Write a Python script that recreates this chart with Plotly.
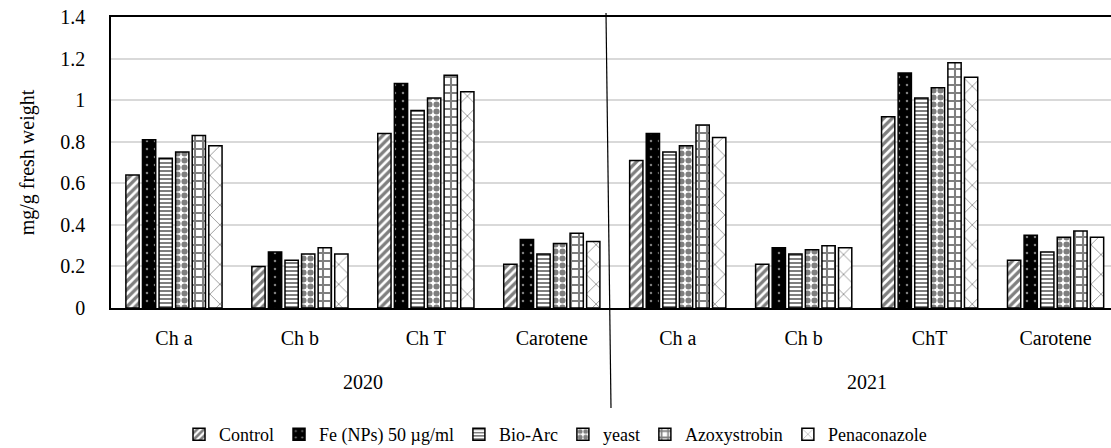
import plotly.graph_objects as go

years = ["2020", "2021"]
params = ["Ch a", "Ch b", "Ch T", "Carotene", "Ch a", "Ch b", "ChT", "Carotene"]
keys = [f"{years[i // 4]}|{p}" for i, p in enumerate(params)]

control = [0.64, 0.20, 0.84, 0.21, 0.71, 0.21, 0.92, 0.23]
fe_nps = [0.81, 0.27, 1.08, 0.33, 0.84, 0.29, 1.13, 0.35]
bio_arc = [0.72, 0.23, 0.95, 0.26, 0.75, 0.26, 1.01, 0.27]
yeast = [0.75, 0.26, 1.01, 0.31, 0.78, 0.28, 1.06, 0.34]
azoxystrobin = [0.83, 0.29, 1.12, 0.36, 0.88, 0.30, 1.18, 0.37]
penaconazole = [0.78, 0.26, 1.04, 0.32, 0.82, 0.29, 1.11, 0.34]

series_names = ["Control", "Fe (NPs) 50 µg/ml", "Bio-Arc", "yeast", "Azoxystrobin", "Penaconazole"]
series_values = [control, fe_nps, bio_arc, yeast, azoxystrobin, penaconazole]

styles = [
    dict(color="white", pattern=dict(shape="/", fgcolor="black", bgcolor="white", size=6, solidity=0.55)),
    dict(color="black", pattern=dict(shape=".", fgcolor="white", bgcolor="black", size=8, solidity=0.08)),
    dict(color="white", pattern=dict(shape="-", fgcolor="black", bgcolor="white", size=4, solidity=0.5)),
    dict(color="white", pattern=dict(shape=".", fgcolor="black", bgcolor="white", size=7, solidity=0.6)),
    dict(color="white", pattern=dict(shape="+", fgcolor="black", bgcolor="white", size=8, solidity=0.45)),
    dict(color="white", pattern=dict(shape="x", fgcolor="#222222", bgcolor="white", size=14, solidity=0.12)),
]

FONT = "Times New Roman"
FS = 20
LFS = 18

fig = go.Figure()
for name, vals, st in zip(series_names, series_values, styles):
    fig.add_trace(go.Bar(
        name=name,
        x=keys,
        y=vals,
        marker=dict(color=st["color"], pattern=st["pattern"],
                    line=dict(color="black", width=1.5)),
    ))

fig.update_layout(
    width=1111, height=448,
    margin=dict(l=111, r=0, t=17, b=140),
    paper_bgcolor="white", plot_bgcolor="white",
    barmode="group", bargap=0.21, bargroupgap=0.2,
    font=dict(family=FONT, size=FS, color="black"),
    legend=dict(orientation="h", xref="container", yref="container",
                x=0.5, xanchor="center", y=0.03, yanchor="middle",
                font=dict(family=FONT, size=LFS, color="black"),
                itemwidth=30, traceorder="normal", tracegroupgap=0),
    showlegend=True,
)

fig.update_xaxes(
    type="category",
    categoryorder="array", categoryarray=keys,
    tickvals=keys, ticktext=params,
    range=[-0.5, 7.44],
    showline=True, linecolor="black", linewidth=1.5, mirror=True,
    ticks="", ticklabelstandoff=11,
    tickfont=dict(family=FONT, size=FS, color="black"),
    showgrid=False, automargin=False,
)
fig.update_yaxes(
    range=[0, 1.4], dtick=0.2, tickformat="~g",
    showline=True, linecolor="black", linewidth=1.5,
    showgrid=True, gridcolor="#d9d9d9", gridwidth=1.5,
    zeroline=False, ticks="", ticklabelstandoff=20,
    ticklabeloverflow="allow",
    tickfont=dict(family=FONT, size=FS, color="black"),
    title=dict(text="mg/g fresh weight", font=dict(family=FONT, size=FS, color="black"), standoff=20),
    automargin=False,
)

# year labels under each group of four categories
for i, yr in enumerate(years):
    fig.add_annotation(x=4 * i + 1.5, y=-0.30, xref="x", yref="paper",
                       text=yr, showarrow=False,
                       font=dict(family=FONT, size=FS, color="black"))

fig.add_shape(type="line", xref="paper", yref="paper",
              x0=0.495, y0=1.0137, x1=0.5, y1=-0.3436,
              line=dict(color="black", width=1.2), layer="above")

# remove the page's default 8px body margin so the figure fills the window
fig.write_html("out.html", config={"displayModeBar": False},
               post_script="document.body.style.margin='0';")
